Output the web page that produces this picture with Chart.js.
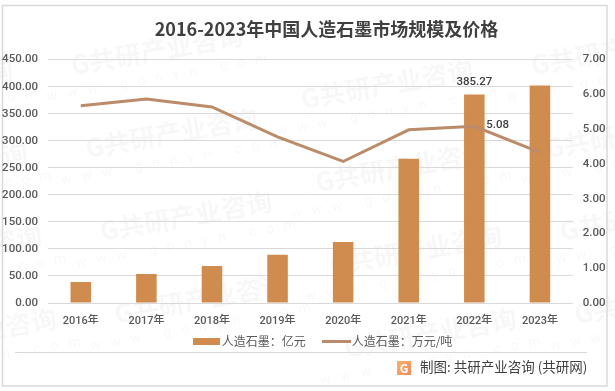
<!DOCTYPE html>
<html lang="zh-CN">
<head>
    <meta charset="UTF-8">
    <title>2016-2023年中国人造石墨市场规模及价格</title>
    <script src="https://cdn.jsdelivr.net/npm/chart.js"></script>
    <style>
        html, body { margin: 0; padding: 0; background: #fff; }
        #wrap { width: 615px; height: 391px; }
    </style>
</head>
<body>
    <div id="wrap"><canvas id="chart" width="615" height="391"></canvas></div>

    <script>
        const categories = ['2016年', '2017年', '2018年', '2019年', '2020年', '2021年', '2022年', '2023年'];
        const marketSize = [39, 53.7, 68.5, 89, 113, 266.7, 385.27, 402];
        const price = [5.67, 5.87, 5.64, 4.78, 4.07, 4.98, 5.08, 4.33];
        const leftTickStep = 50;
        const rightTickStep = 1;

        const FONT = "Roboto, 'Noto Sans CJK SC', sans-serif";
        const CJK = "'Noto Sans CJK SC', sans-serif";
        const TEXT = '#595959';

        // legend swatches: the bar one is thick, the line one is thin
        function swatch(w, h, color) {
            const c = document.createElement('canvas');
            c.width = w;
            c.height = h;
            const g = c.getContext('2d');
            g.fillStyle = color;
            g.fillRect(0, 0, w, h);
            return c;
        }
        const barSwatch = swatch(27, 7, '#D08B4E');
        const lineSwatch = swatch(29, 3, '#BC8B69');

        function drawWatermark(ctx, cx, cy) {
            ctx.save();
            ctx.translate(cx, cy);
            ctx.rotate(-10 * Math.PI / 180);
            ctx.textAlign = 'center';
            ctx.textBaseline = 'middle';
            ctx.fillStyle = 'rgba(0,0,0,0.03)';
            ctx.font = "bold 26px " + CJK;
            ctx.fillText('G共研产业咨询', 0, 0);
            ctx.font = '14px Roboto';
            ctx.letterSpacing = '10px';
            ctx.fillText('www.gonyn.com', 0, 28);
            ctx.restore();
        }

        const background = {
            id: 'background',
            // the original title and legend sit right of the canvas centre
            afterLayout(chart) {
                chart.titleBlock.left += 19;
                chart.titleBlock.right += 19;
                chart.legend.left += 17;
                chart.legend.right += 17;
                chart.legend.top -= 10;
            },
            beforeDraw(chart) {
                const ctx = chart.ctx;
                ctx.save();
                ctx.fillStyle = '#fff';
                ctx.fillRect(0, 0, chart.width, chart.height);
                // watermark tiles, staggered columns
                for (let col = -1; col < 3; col++) {
                    const x0 = 157 + col * 230;
                    const y0 = col % 2 === 0 ? 50 : 84;
                    for (let row = 0; row < 4; row++) {
                        drawWatermark(ctx, x0 + row * 14.5, y0 + row * 83);
                    }
                }
                ctx.strokeStyle = '#D9D9D9';
                ctx.lineWidth = 1.5;
                ctx.strokeRect(2.5, 5.5, 604.5, 380.5);
                ctx.lineWidth = 1;
                ctx.beginPath();
                ctx.moveTo(15, 352.5);
                ctx.lineTo(587, 352.5);
                ctx.stroke();
                ctx.restore();
            }
        };

        const extras = {
            id: 'extras',
            afterDraw(chart) {
                const ctx = chart.ctx;
                ctx.save();
                // only two points carry a value label in the original
                ctx.fillStyle = '#404040';
                ctx.font = '500 11.5px ' + FONT;
                ctx.textBaseline = 'middle';
                ctx.textAlign = 'center';
                const bar = chart.getDatasetMeta(0).data[6];
                ctx.fillText(marketSize[6].toFixed(2), bar.x, bar.y - 12);
                const pt = chart.getDatasetMeta(1).data[6];
                ctx.textAlign = 'left';
                ctx.fillText(price[6].toFixed(2), pt.x + 12, pt.y - 1);

                // source logo and text
                const grad = ctx.createLinearGradient(397, 361, 411, 375);
                grad.addColorStop(0, '#F9B26B');
                grad.addColorStop(1, '#F08A5A');
                ctx.fillStyle = grad;
                ctx.fillRect(397, 361, 14, 14);
                ctx.fillStyle = '#fff';
                ctx.font = "bold 12px " + CJK;
                ctx.textAlign = 'center';
                ctx.fillText('G', 404, 368);
                ctx.fillStyle = '#404040';
                ctx.font = '13.5px ' + CJK;
                ctx.textAlign = 'left';
                ctx.fillText('制图: 共研产业咨询 (共研网)', 420, 367);
                ctx.restore();
            }
        };

        new Chart(document.getElementById('chart'), {
            data: {
                labels: categories,
                datasets: [
                    {
                        type: 'bar',
                        label: '人造石墨：亿元',
                        data: marketSize,
                        yAxisID: 'y',
                        backgroundColor: '#D08B4E',
                        categoryPercentage: 1,
                        barPercentage: 0.313,
                        order: 2
                    },
                    {
                        type: 'line',
                        label: '人造石墨：万元/吨',
                        data: price,
                        yAxisID: 'y1',
                        borderColor: '#BC8B69',
                        borderWidth: 3,
                        pointRadius: 0,
                        tension: 0,
                        order: 1
                    }
                ]
            },
            options: {
                responsive: false,
                animation: false,
                layout: { padding: { left: 0, right: 0, top: 18, bottom: 24 } },
                plugins: {
                    title: {
                        display: true,
                        text: '2016-2023年中国人造石墨市场规模及价格',
                        color: '#404040',
                        font: { family: CJK, size: 18, weight: 'bold' },
                        padding: { top: 0, bottom: 20 }
                    },
                    legend: {
                        position: 'bottom',
                        labels: {
                            usePointStyle: true,
                            pointStyleWidth: 19,
                            padding: 21,
                            color: TEXT,
                            font: { family: CJK, size: 12 },
                            generateLabels() {
                                return [
                                    { text: '人造石墨：亿元', pointStyle: barSwatch, fontColor: TEXT, datasetIndex: 0 },
                                    { text: '人造石墨：万元/吨', pointStyle: lineSwatch, fontColor: TEXT, datasetIndex: 1 }
                                ];
                            }
                        }
                    },
                    tooltip: { enabled: false }
                },
                scales: {
                    x: {
                        afterFit(s) { s.height = 21; },
                        grid: { display: false },
                        border: { display: false },
                        ticks: { color: TEXT, font: { family: FONT, size: 11, weight: '500' }, padding: 4, maxRotation: 0 }
                    },
                    y: {
                        position: 'left',
                        min: 0,
                        max: 450,
                        afterFit(s) { s.width = 48; },
                        grid: { color: '#D9D9D9', lineWidth: 1, drawTicks: false },
                        border: { display: false },
                        ticks: {
                            stepSize: leftTickStep,
                            color: TEXT,
                            font: { family: FONT, size: 11.5, weight: '500' },
                            padding: 10,
                            callback: v => v.toFixed(2)
                        }
                    },
                    y1: {
                        position: 'right',
                        min: 0,
                        max: 7,
                        afterFit(s) { s.width = 42.3; },
                        grid: { display: false, drawTicks: false },
                        border: { display: false },
                        ticks: {
                            stepSize: rightTickStep,
                            color: TEXT,
                            font: { family: FONT, size: 11.5, weight: '500' },
                            padding: 10,
                            callback: v => v.toFixed(2)
                        }
                    }
                }
            },
            plugins: [background, extras]
        });
    </script>
</body>
</html>
